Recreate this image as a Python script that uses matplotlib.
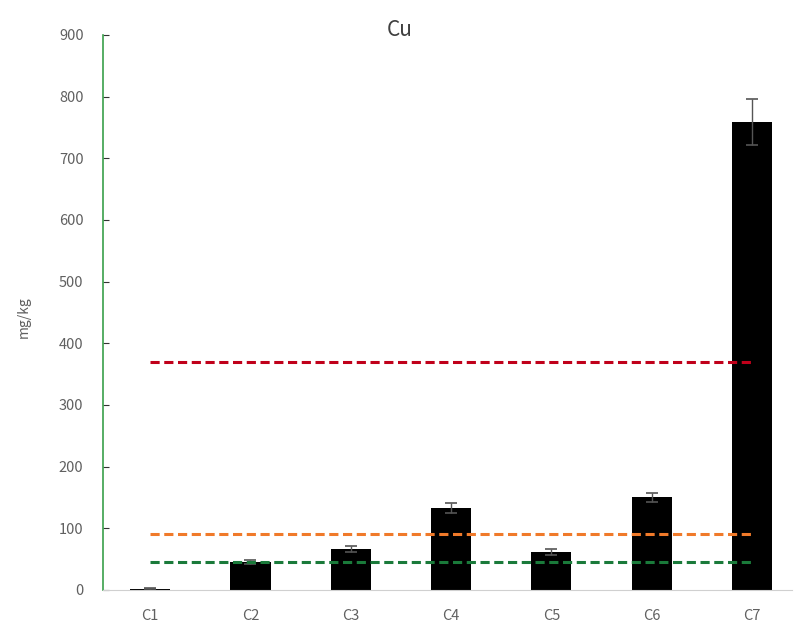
import matplotlib.pyplot as plt

sites = ['C1', 'C2', 'C3', 'C4', 'C5', 'C6', 'C7']
cu = [2, 45, 66, 133, 62, 150, 759]
cu_err = [1, 3, 5, 8, 5, 8, 38]

limit_high = 370
limit_mid = 90
limit_low = 46

plt.rcParams['font.family'] = ['Noto Sans CJK JP', 'DejaVu Sans']

fig = plt.figure(figsize=(7.94, 6.35), dpi=100)
ax = fig.add_axes([0.1297, 0.0709, 0.868, 0.874])

x = range(len(sites))
ax.bar(x, cu, width=0.4, color='black', yerr=cu_err,
       error_kw=dict(ecolor='#555555', elinewidth=1, capsize=4, capthick=1.2))

ax.plot(x, [limit_high] * len(sites), color='#c0001a', ls=(0, (3, 1.5)), lw=2.2)
ax.plot(x, [limit_mid] * len(sites), color='#f07a2a', ls=(0, (3, 1.5)), lw=2.2)
ax.plot(x, [limit_low] * len(sites), color='#1a7a3a', ls=(0, (3, 1.5)), lw=2.2)

ax.set_xlim(-0.47, 6.4)
ax.set_ylim(0, 900)
ax.set_yticks(range(0, 901, 100))
ax.set_xticks(list(x))
ax.set_xticklabels(sites)

for s in ['top', 'right']:
    ax.spines[s].set_visible(False)
ax.spines['left'].set_color('#3aa04a')
ax.spines['left'].set_linewidth(1.2)
ax.spines['bottom'].set_color('#d0d0d0')

ax.tick_params(axis='y', direction='in', length=4, color='#333333',
               labelcolor='#606060', labelsize=10.5, pad=14)
ax.tick_params(axis='x', length=0, labelcolor='#606060', labelsize=10.5, pad=14)

fig.text(0.03, 0.5, 'mg/kg', rotation=90, ha='center', va='center',
         color='#606060', fontsize=10)
fig.text(0.504, 0.952, 'Cu', ha='center', va='center', fontsize=15, color='#404040')

fig.savefig('out.png', dpi=100)
